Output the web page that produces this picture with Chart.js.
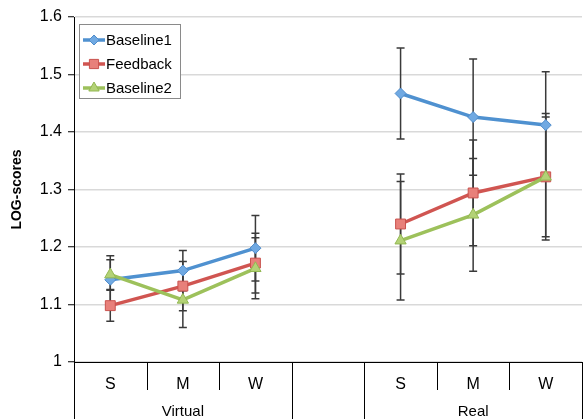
<!DOCTYPE html>
<html><head><meta charset="utf-8">
<script src="https://cdn.jsdelivr.net/npm/chart.js@4"></script>
<style>
html,body{margin:0;padding:0;overflow:hidden;background:#fff}
#wrap{width:590px;height:419px;position:relative}
</style></head><body>
<div id="wrap"><canvas id="c" width="590" height="419"></canvas></div>
<script>
// ---- data ----
const categories = ['S','M','W','','S','M','W'];
const groupLabels = ['Virtual','','Real'];
const groupSizes = [3,1,3];
const seriesNames = ['Baseline1','Feedback','Baseline2'];
const baseline1 = [1.143,1.159,1.198,null,1.467,1.426,1.412];
const feedback  = [1.098,1.132,1.172,null,1.240,1.294,1.322];
const baseline2 = [1.152,1.108,1.163,null,1.211,1.256,1.322];
const baseline1Err = [0.042,0.035,0.057,null,0.079,0.101,0.093];
const feedbackErr  = [0.027,0.043,0.052,null,0.087,0.092,0.110];
const baseline2Err = [0.026,0.048,0.053,null,0.103,0.098,0.104];
const yTicks = [1,1.1,1.2,1.3,1.4,1.5,1.6];

const FONT = "'Liberation Sans', Arial, sans-serif";
const styles = [
  {line:'#4F91D0', fill:'#70A9E2', border:'#4F8CCB', shape:'rectRot', r:5.5},
  {line:'#D05551', fill:'#E8807A', border:'#C9524E', shape:'rect', r:7},
  {line:'#9DC15B', fill:'#B3D276', border:'#93B852', shape:'triangle', r:6.5}
];
const values = [baseline1, feedback, baseline2];
const errs = [baseline1Err, feedbackErr, baseline2Err];

function marker(ctx, shape, x, y, r, fill, stroke){
  ctx.save();
  ctx.beginPath();
  if(shape==='rectRot'){
    ctx.moveTo(x, y-r); ctx.lineTo(x+r, y); ctx.lineTo(x, y+r); ctx.lineTo(x-r, y); ctx.closePath();
  } else if(shape==='rect'){
    const s = r*Math.SQRT1_2; ctx.rect(x-s, y-s, 2*s, 2*s);
  } else {
    const a = Math.PI*2/3;
    ctx.moveTo(x, y-r);
    ctx.lineTo(x+Math.sin(a)*r, y-Math.cos(a)*r);
    ctx.lineTo(x-Math.sin(a)*r, y-Math.cos(a)*r);
    ctx.closePath();
  }
  ctx.fillStyle = fill; ctx.fill();
  ctx.lineWidth = 1; ctx.strokeStyle = stroke; ctx.stroke();
  ctx.restore();
}

const extras = {
  id:'extras',
  beforeDatasetsDraw(chart){
    const {ctx, scales:{x, y}} = chart;
    ctx.save();
    ctx.strokeStyle = '#3a3a3a'; ctx.lineWidth = 1.5;
    values.forEach((vals, si) => {
      vals.forEach((v, i) => {
        const e = errs[si][i];
        if (v == null || e == null) return;
        const px = x.getPixelForValue(i);
        const t = y.getPixelForValue(v + e), b = y.getPixelForValue(v - e);
        ctx.beginPath();
        ctx.moveTo(px, t); ctx.lineTo(px, b);
        ctx.moveTo(px-4, t); ctx.lineTo(px+4, t);
        ctx.moveTo(px-4, b); ctx.lineTo(px+4, b);
        ctx.stroke();
      });
    });
    ctx.restore();
  },
  afterDraw(chart){
    const {ctx, scales:{x}, chartArea} = chart;
    const half = (x.getPixelForValue(1) - x.getPixelForValue(0)) / 2;
    const bottom = chartArea.bottom;
    const groupEdges = new Set([0]);
    let acc = 0; groupSizes.forEach(s => { acc += s; groupEdges.add(acc); });
    ctx.save();
    ctx.strokeStyle = '#000'; ctx.lineWidth = 1;
    for (let i = 0; i <= categories.length; i++) {
      const px = Math.round(x.getPixelForValue(0) - half + i*2*half) + 0.5;
      const long = groupEdges.has(i);
      ctx.beginPath();
      ctx.moveTo(px, bottom);
      ctx.lineTo(px, long ? chart.height : bottom + 28);
      ctx.stroke();
    }
    ctx.fillStyle = '#000';
    ctx.font = '15px ' + FONT;
    ctx.textAlign = 'center'; ctx.textBaseline = 'alphabetic';
    let start = 0;
    groupSizes.forEach((s, gi) => {
      const cx = (x.getPixelForValue(start) + x.getPixelForValue(start + s - 1)) / 2;
      if (groupLabels[gi]) ctx.fillText(groupLabels[gi], cx, 416);
      start += s;
    });
    // legend
    ctx.fillStyle = '#fff';
    ctx.fillRect(79.5, 24.5, 101, 74);
    ctx.strokeStyle = '#8a8a8a'; ctx.lineWidth = 1;
    ctx.strokeRect(79.5, 24.5, 101, 74);
    ctx.textAlign = 'left'; ctx.textBaseline = 'middle';
    ctx.font = '15px ' + FONT;
    seriesNames.forEach((n, i) => {
      const ly = 40 + i*24;
      const st = styles[i];
      ctx.beginPath();
      ctx.strokeStyle = st.line; ctx.lineWidth = 3.5;
      ctx.moveTo(83, ly); ctx.lineTo(105, ly); ctx.stroke();
      marker(ctx, st.shape, 94, ly, st.r - 0.5, st.fill, st.border);
      ctx.fillStyle = '#000';
      ctx.fillText(n, 106, ly + 1);
    });
    ctx.restore();
  }
};

const datasets = values.map((vals, i) => ({
  label: seriesNames[i],
  data: vals,
  borderColor: styles[i].line,
  backgroundColor: styles[i].fill,
  borderWidth: 3.5,
  pointStyle: styles[i].shape,
  pointRadius: styles[i].r,
  pointBackgroundColor: styles[i].fill,
  pointBorderColor: styles[i].border,
  pointBorderWidth: 1,
  spanGaps: false,
  tension: 0,
  order: 2 - i
}));

new Chart(document.getElementById('c'), {
  type: 'line',
  data: { labels: categories, datasets },
  plugins: [extras],
  options: {
    responsive: false,
    animation: false,
    devicePixelRatio: 1,
    layout: { padding: { top: 17, right: 2, left: 0, bottom: 0 } },
    plugins: { legend: { display: false }, tooltip: { enabled: false } },
    scales: {
      x: {
        type: 'category', offset: true,
        grid: { display: false },
        border: { display: true, color: '#000', width: 1 },
        ticks: { color: '#000', font: { family: FONT, size: 16 }, padding: 5, maxRotation: 0, autoSkip: false },
        afterFit(s) { s.height = 57; }
      },
      y: {
        min: 1, max: 1.6,
        afterBuildTicks(s) { s.ticks = yTicks.map(v => ({ value: v })); },
        grid: { color: '#d9d9d9', lineWidth: 1.5, tickColor: '#000', tickLength: 6, tickWidth: 1 },
        border: { color: '#000', width: 1 },
        ticks: { color: '#000', font: { family: FONT, size: 16 }, padding: 6, callback: v => String(+Number(v).toFixed(1)) },
        title: { display: true, text: 'LOG-scores', color: '#000', font: { family: FONT, size: 14, weight: 'bold' }, padding: { top: 9, bottom: 0 } },
        afterFit(s) { s.width = 74; }
      }
    }
  }
});
</script>
</body></html>
